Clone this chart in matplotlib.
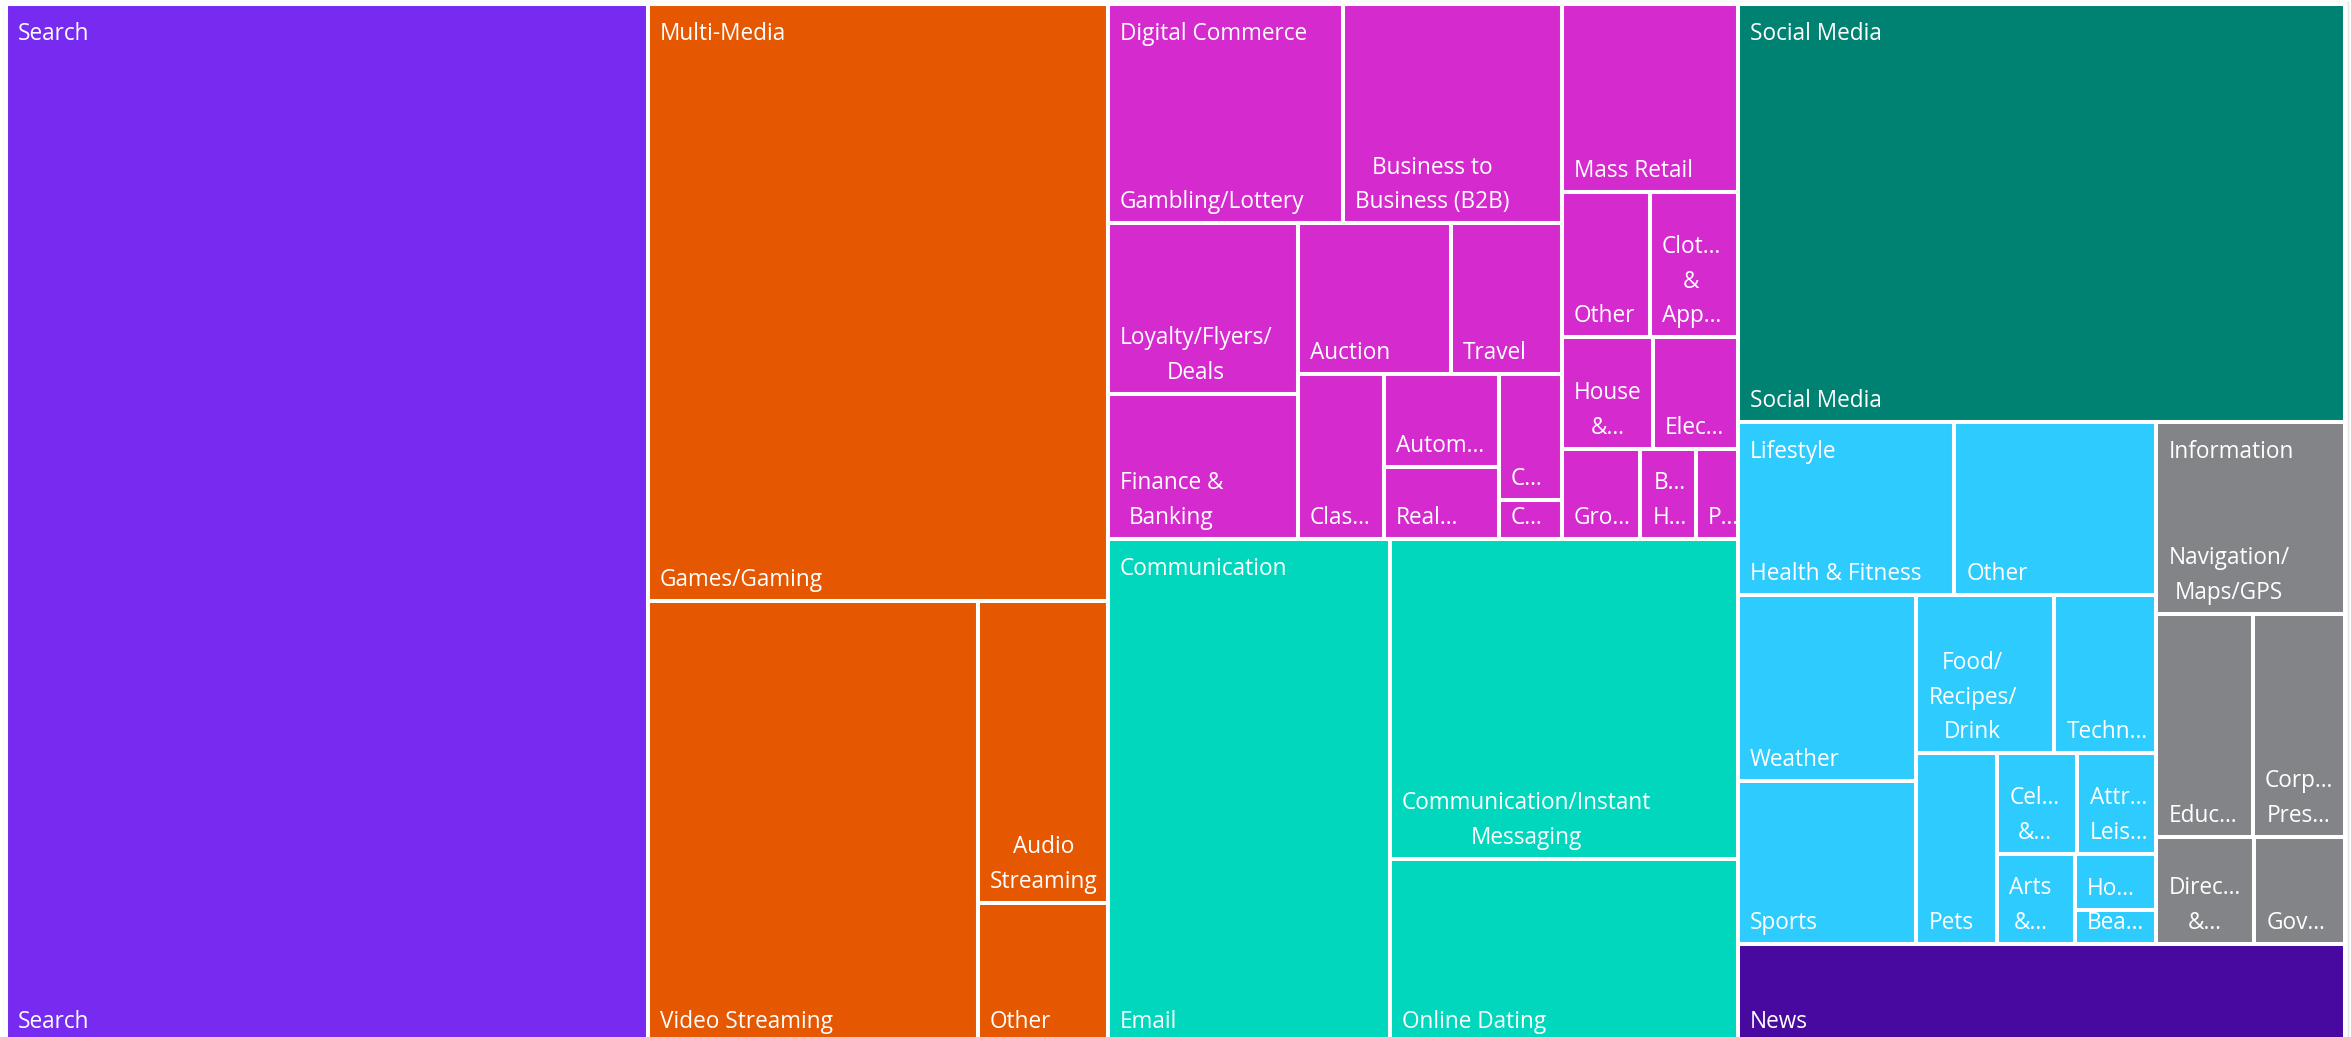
import matplotlib.pyplot as plt
from matplotlib.patches import Rectangle

plt.rcParams['font.family'] = ['Open Sans', 'DejaVu Sans']

# top level groups, in layout order
groups = ["Search", "Multi-Media", "Digital Commerce", "Communication",
          "Social Media", "Lifestyle", "Information", "News"]
group_colors = ["#782BF0", "#E55700", "#D52ACE", "#00D7BD",
                "#008272", "#2ECBFF", "#838488", "#47099F"]

# categories per group (labels as they show in the chart) and values
search_labels = ["Search"]
search_values = [665.8]

media_labels = ["Games/Gaming", "Video Streaming", "Audio\nStreaming", "Other"]
media_values = [274.2, 145.5, 39.1, 18.2]

commerce_labels = ["Gambling/Lottery", "Business to\nBusiness (B2B)", "Mass Retail",
                   "Loyalty/Flyers/\nDeals", "Finance &\nBanking", "Auction", "Travel",
                   "Clas…", "Other", "Clot…\n&\nApp…", "Autom…", "House\n&…", "Elec…",
                   "Real…", "C…", "Gro…", "B…\nH…", "P…", "C…"]
commerce_values = [51.5, 48.0, 32.9, 32.3, 27.6, 23.0, 16.7, 14.2, 12.8, 12.8,
                   10.7, 10.1, 9.4, 8.3, 7.9, 7.1, 5.0, 3.8, 2.5]

comm_labels = ["Email", "Communication/Instant\nMessaging", "Online Dating"]
comm_values = [141.8, 111.0, 64.0]

social_labels = ["Social Media"]
social_values = [253.5]

life_labels = ["Health & Fitness", "Other", "Weather", "Sports", "Food/\nRecipes/\nDrink",
               "Techn…", "Pets", "Cel…\n&…", "Attr…\nLeis…", "Arts\n&…", "Ho…", "Bea…"]
life_values = [37.5, 34.9, 33.3, 29.0, 21.8, 16.1, 15.4, 8.0, 7.9, 7.0, 4.6, 2.7]

info_labels = ["Navigation/\nMaps/GPS", "Educ…", "Corp…\nPres…", "Direc…\n&…", "Gov…"]
info_values = [36.1, 21.5, 20.5, 10.5, 9.7]

news_labels = ["News"]
news_values = [60.2]

# nesting of the cells (indices), split direction alternates at each level
top_arrangement = [0, 1, [2, 3], [4, [5, 6], 7]]
search_arr = [0]
media_arr = [0, [1, [2, 3]]]
commerce_arr = [[[0, 1], [[3, 4], [[5, 6], [7, [10, 13], [14, 18]]]]],
                [2, [8, 9], [11, 12], [15, 16, 17]]]
comm_arr = [0, [1, 2]]
social_arr = [0]
life_arr = [[0, 1], [[2, 3], [[4, 5], [6, [[7, 8], [9, [10, 11]]]]]]]
info_arr = [0, [1, 2], [3, 4]]
news_arr = [0]

group_data = [(search_labels, search_values, search_arr),
              (media_labels, media_values, media_arr),
              (commerce_labels, commerce_values, commerce_arr),
              (comm_labels, comm_values, comm_arr),
              (social_labels, social_values, social_arr),
              (life_labels, life_values, life_arr),
              (info_labels, info_values, info_arr),
              (news_labels, news_values, news_arr)]


def total(node, values):
    if isinstance(node, int):
        return values[node]
    return sum(total(n, values) for n in node)


def layout(node, values, x0, y0, x1, y1, side, out):
    # nested slice and dice
    if isinstance(node, int):
        out[node] = (x0, y0, x1, y1)
        return
    if side is None:
        side = (x1 - x0) >= (y1 - y0)
    s = total(node, values)
    pos = x0 if side else y0
    for child in node:
        frac = total(child, values) / s
        if side:
            w = (x1 - x0) * frac
            layout(child, values, pos, y0, pos + w, y1, False, out)
            pos += w
        else:
            h = (y1 - y0) * frac
            layout(child, values, x0, pos, x1, pos + h, True, out)
            pos += h


W, H = 2351, 1037
fig = plt.figure(figsize=(W / 100, H / 100), dpi=100)
ax = fig.add_axes([0, 0, 1, 1])
ax.set_xlim(0, W)
ax.set_ylim(H, 0)
ax.axis('off')

# light frame of the visual
ax.add_patch(Rectangle((4, 2), 2344, 1050, fill=False, edgecolor='#E4E4E4', linewidth=1))

group_sums = [sum(v) for _, v, _ in group_data]
group_rects = {}
layout(top_arrangement, group_sums, 6, 4, 2345, 1043, None, group_rects)

fs = 16.3
for g, (labels, values, arr) in enumerate(group_data):
    gx0, gy0, gx1, gy1 = group_rects[g]
    cells = {}
    layout(arr, values, gx0, gy0, gx1, gy1, None, cells)
    for i, (x0, y0, x1, y1) in cells.items():
        ax.add_patch(Rectangle((x0, y0), x1 - x0, y1 - y0, facecolor=group_colors[g],
                               edgecolor='white', linewidth=2.9))
        ax.text(x0 + 12, y1 - 9, labels[i], color='white', fontsize=fs,
                ha='left', va='bottom', multialignment='center', linespacing=1.6)
    if gy1 - gy0 > 150:
        ax.text(gx0 + 12, gy0 + 36, groups[g], color='white', fontsize=fs,
                ha='left', va='baseline')

fig.savefig("out.png", dpi=100)
